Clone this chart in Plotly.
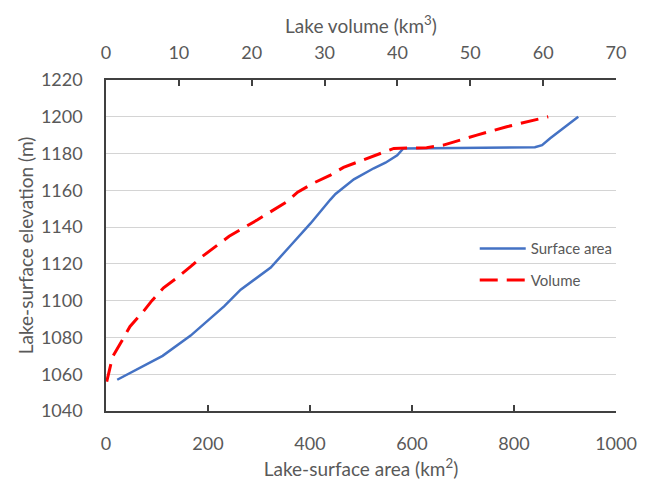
import plotly.graph_objects as go

# Hypsometric curves for the lake basin
area_km2 = [22, 111, 166, 232, 264, 323, 362, 401, 440, 450, 486, 499,
            525, 548, 571, 583, 700, 841, 855, 871, 926]
area_elev_m = [1057, 1070, 1081, 1097, 1106, 1118, 1130, 1142, 1155, 1158,
               1166, 1168, 1172, 1175, 1179, 1182.8, 1183, 1183.4, 1184.6,
               1188.3, 1200]

volume_km3 = [0.1, 0.9, 2.3, 3.3, 5.1, 6.3, 7.9, 9.6, 11.6, 13.2, 16.9,
              20.8, 24.9, 26.3, 28.5, 30.8, 32.6, 34.9, 36.8, 39.5, 44.0,
              46.3, 50.9, 55.0, 60.7]
volume_elev_m = [1056, 1069.5, 1079, 1086, 1094, 1100, 1107, 1112, 1118.5,
                 1124, 1135, 1144, 1154, 1159, 1164, 1168.3, 1172.5, 1176,
                 1179, 1182.8, 1183.2, 1184.6, 1190, 1194.6, 1200]

area_ticks = [0, 200, 400, 600, 800, 1000]
volume_ticks = [0, 10, 20, 30, 40, 50, 60, 70]
elev_ticks = list(range(1040, 1221, 20))

FONT = "Lato, 'Open Sans', sans-serif"
TEXT = "#595959"
AXIS = "#404040"

fig = go.Figure()
fig.add_trace(go.Scatter(
    x=area_km2, y=area_elev_m, mode="lines", name="Surface area",
    line=dict(color="#4472C4", width=2.5), legendgroup="a",
))
fig.add_trace(go.Scatter(
    x=volume_km3, y=volume_elev_m, mode="lines", name="Volume",
    xaxis="x2", line=dict(color="#FF0000", width=3, dash="18px,9px"),
    legendgroup="v",
))

fig.update_layout(
    width=646, height=483,
    margin=dict(l=106, r=30, t=80, b=72),
    paper_bgcolor="white", plot_bgcolor="white",
    font=dict(family=FONT, color=TEXT, size=18),
    showlegend=True,
    legend=dict(
        x=0.723, y=0.54, xanchor="left", yanchor="top",
        font=dict(size=15, color=TEXT), itemwidth=46,
        tracegroupgap=9, bgcolor="rgba(0,0,0,0)",
    ),
    xaxis=dict(
        range=[0, 1000], tickvals=area_ticks, ticks="inside", ticklen=6,
        tickcolor=AXIS, tickwidth=1.5, tickfont=dict(size=18),
        showline=True, linecolor=AXIS, linewidth=1.5, automargin=False,
        showgrid=False, zeroline=False, ticklabelstandoff=16,
        title=dict(text="Lake-surface area (km<sup>2</sup>)", standoff=9,
                   font=dict(size=19, color=TEXT)),
    ),
    xaxis2=dict(
        range=[0, 70], tickvals=volume_ticks, overlaying="x", side="top",
        ticks="inside", ticklen=6, tickcolor=AXIS, tickwidth=1.5,
        tickfont=dict(size=18), automargin=False,
        showline=True, linecolor=AXIS, linewidth=1.5,
        showgrid=False, zeroline=False, ticklabelstandoff=12,
        title=dict(text="Lake volume (km<sup>3</sup>)", standoff=2,
                   font=dict(size=19, color=TEXT)),
    ),
    yaxis=dict(
        range=[1040, 1220], tickvals=elev_ticks, ticks="",
        tickfont=dict(size=18), automargin=False,
        showline=True, linecolor=AXIS, linewidth=1.5,
        showgrid=True, gridcolor="#D4D4D4", gridwidth=1.3,
        zeroline=False, ticklabelstandoff=18,
        title=dict(text="Lake-surface elevation (m)", standoff=2,
                   font=dict(size=19, color=TEXT)),
    ),
)

fig.write_html("out.html")
